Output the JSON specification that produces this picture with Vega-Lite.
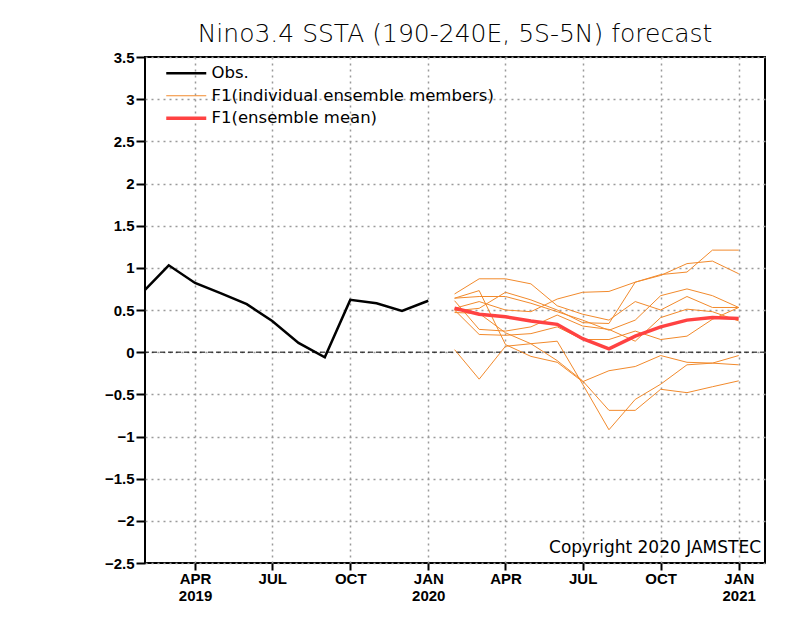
{
  "$schema": "https://vega.github.io/schema/vega-lite/v6.json",
  "width": 620,
  "height": 506,
  "autosize": {"type": "none"},
  "padding": {"left": 145, "top": 57, "right": 35, "bottom": 55},
  "background": "white",
  "title": {"text": "Nino3.4 SSTA (190-240E, 5S-5N) forecast", "font": "DejaVu Sans", "fontSize": 25, "fontWeight": 200, "color": "black", "offset": 3, "anchor": "middle"},
  "config": {
    "view": {"stroke": "black", "strokeWidth": 2},
    "axis": {"grid": true, "gridColor": "#9a9a9a", "gridDash": [2, 4], "gridWidth": 1.5, "domain": false, "tickColor": "black", "tickWidth": 2, "labelColor": "black", "labelFont": "Liberation Sans", "labelFontWeight": "bold", "labelFontSize": 15, "title": null},
    "legend": {"orient": "none", "legendX": 33, "legendY": 8, "title": null, "labelFont": "DejaVu Sans", "labelFontSize": 16.5, "labelColor": "black", "labelLimit": 500, "symbolType": "M-4,0H4", "symbolSize": 100, "rowPadding": 5.5, "labelOffset": 17}
  },
  "datasets": {
    "obs": [
      {"date": "2019-02-01", "value": 0.74, "series": "Obs."},
      {"date": "2019-03-01", "value": 1.03, "series": "Obs."},
      {"date": "2019-04-01", "value": 0.82, "series": "Obs."},
      {"date": "2019-05-01", "value": 0.70, "series": "Obs."},
      {"date": "2019-06-01", "value": 0.57, "series": "Obs."},
      {"date": "2019-07-01", "value": 0.37, "series": "Obs."},
      {"date": "2019-08-01", "value": 0.11, "series": "Obs."},
      {"date": "2019-09-01", "value": -0.06, "series": "Obs."},
      {"date": "2019-10-01", "value": 0.62, "series": "Obs."},
      {"date": "2019-11-01", "value": 0.58, "series": "Obs."},
      {"date": "2019-12-01", "value": 0.49, "series": "Obs."},
      {"date": "2020-01-01", "value": 0.61, "series": "Obs."}
    ],
    "mean": [
      {"date": "2020-02-01", "value": 0.52, "series": "F1(ensemble mean)"},
      {"date": "2020-03-01", "value": 0.45, "series": "F1(ensemble mean)"},
      {"date": "2020-04-01", "value": 0.42, "series": "F1(ensemble mean)"},
      {"date": "2020-05-01", "value": 0.37, "series": "F1(ensemble mean)"},
      {"date": "2020-06-01", "value": 0.33, "series": "F1(ensemble mean)"},
      {"date": "2020-07-01", "value": 0.16, "series": "F1(ensemble mean)"},
      {"date": "2020-08-01", "value": 0.04, "series": "F1(ensemble mean)"},
      {"date": "2020-09-01", "value": 0.19, "series": "F1(ensemble mean)"},
      {"date": "2020-10-01", "value": 0.30, "series": "F1(ensemble mean)"},
      {"date": "2020-11-01", "value": 0.38, "series": "F1(ensemble mean)"},
      {"date": "2020-12-01", "value": 0.41, "series": "F1(ensemble mean)"},
      {"date": "2021-01-01", "value": 0.40, "series": "F1(ensemble mean)"}
    ],
    "ens": [
      {"member": 1, "date": "2020-02-01", "value": 0.49, "series": "F1(individual ensemble members)"},
      {"member": 1, "date": "2020-03-01", "value": 0.52, "series": "F1(individual ensemble members)"},
      {"member": 1, "date": "2020-04-01", "value": 0.71, "series": "F1(individual ensemble members)"},
      {"member": 1, "date": "2020-05-01", "value": 0.62, "series": "F1(individual ensemble members)"},
      {"member": 1, "date": "2020-06-01", "value": 0.50, "series": "F1(individual ensemble members)"},
      {"member": 1, "date": "2020-07-01", "value": 0.35, "series": "F1(individual ensemble members)"},
      {"member": 1, "date": "2020-08-01", "value": 0.34, "series": "F1(individual ensemble members)"},
      {"member": 1, "date": "2020-09-01", "value": 0.83, "series": "F1(individual ensemble members)"},
      {"member": 1, "date": "2020-10-01", "value": 0.92, "series": "F1(individual ensemble members)"},
      {"member": 1, "date": "2020-11-01", "value": 0.95, "series": "F1(individual ensemble members)"},
      {"member": 1, "date": "2020-12-01", "value": 1.21, "series": "F1(individual ensemble members)"},
      {"member": 1, "date": "2021-01-01", "value": 1.21, "series": "F1(individual ensemble members)"},
      {"member": 2, "date": "2020-02-01", "value": 0.52, "series": "F1(individual ensemble members)"},
      {"member": 2, "date": "2020-03-01", "value": 0.60, "series": "F1(individual ensemble members)"},
      {"member": 2, "date": "2020-04-01", "value": 0.50, "series": "F1(individual ensemble members)"},
      {"member": 2, "date": "2020-05-01", "value": 0.48, "series": "F1(individual ensemble members)"},
      {"member": 2, "date": "2020-06-01", "value": 0.63, "series": "F1(individual ensemble members)"},
      {"member": 2, "date": "2020-07-01", "value": 0.71, "series": "F1(individual ensemble members)"},
      {"member": 2, "date": "2020-08-01", "value": 0.72, "series": "F1(individual ensemble members)"},
      {"member": 2, "date": "2020-09-01", "value": 0.83, "series": "F1(individual ensemble members)"},
      {"member": 2, "date": "2020-10-01", "value": 0.91, "series": "F1(individual ensemble members)"},
      {"member": 2, "date": "2020-11-01", "value": 1.05, "series": "F1(individual ensemble members)"},
      {"member": 2, "date": "2020-12-01", "value": 1.08, "series": "F1(individual ensemble members)"},
      {"member": 2, "date": "2021-01-01", "value": 0.93, "series": "F1(individual ensemble members)"},
      {"member": 3, "date": "2020-02-01", "value": 0.69, "series": "F1(individual ensemble members)"},
      {"member": 3, "date": "2020-03-01", "value": 0.87, "series": "F1(individual ensemble members)"},
      {"member": 3, "date": "2020-04-01", "value": 0.87, "series": "F1(individual ensemble members)"},
      {"member": 3, "date": "2020-05-01", "value": 0.81, "series": "F1(individual ensemble members)"},
      {"member": 3, "date": "2020-06-01", "value": 0.55, "series": "F1(individual ensemble members)"},
      {"member": 3, "date": "2020-07-01", "value": 0.45, "series": "F1(individual ensemble members)"},
      {"member": 3, "date": "2020-08-01", "value": 0.38, "series": "F1(individual ensemble members)"},
      {"member": 3, "date": "2020-09-01", "value": 0.60, "series": "F1(individual ensemble members)"},
      {"member": 3, "date": "2020-10-01", "value": 0.50, "series": "F1(individual ensemble members)"},
      {"member": 3, "date": "2020-11-01", "value": 0.66, "series": "F1(individual ensemble members)"},
      {"member": 3, "date": "2020-12-01", "value": 0.53, "series": "F1(individual ensemble members)"},
      {"member": 3, "date": "2021-01-01", "value": 0.53, "series": "F1(individual ensemble members)"},
      {"member": 4, "date": "2020-02-01", "value": 0.64, "series": "F1(individual ensemble members)"},
      {"member": 4, "date": "2020-03-01", "value": 0.66, "series": "F1(individual ensemble members)"},
      {"member": 4, "date": "2020-04-01", "value": 0.66, "series": "F1(individual ensemble members)"},
      {"member": 4, "date": "2020-05-01", "value": 0.58, "series": "F1(individual ensemble members)"},
      {"member": 4, "date": "2020-06-01", "value": 0.48, "series": "F1(individual ensemble members)"},
      {"member": 4, "date": "2020-07-01", "value": 0.38, "series": "F1(individual ensemble members)"},
      {"member": 4, "date": "2020-08-01", "value": 0.26, "series": "F1(individual ensemble members)"},
      {"member": 4, "date": "2020-09-01", "value": 0.38, "series": "F1(individual ensemble members)"},
      {"member": 4, "date": "2020-10-01", "value": 0.67, "series": "F1(individual ensemble members)"},
      {"member": 4, "date": "2020-11-01", "value": 0.75, "series": "F1(individual ensemble members)"},
      {"member": 4, "date": "2020-12-01", "value": 0.67, "series": "F1(individual ensemble members)"},
      {"member": 4, "date": "2021-01-01", "value": 0.53, "series": "F1(individual ensemble members)"},
      {"member": 5, "date": "2020-02-01", "value": 0.61, "series": "F1(individual ensemble members)"},
      {"member": 5, "date": "2020-03-01", "value": 0.27, "series": "F1(individual ensemble members)"},
      {"member": 5, "date": "2020-04-01", "value": 0.25, "series": "F1(individual ensemble members)"},
      {"member": 5, "date": "2020-05-01", "value": 0.30, "series": "F1(individual ensemble members)"},
      {"member": 5, "date": "2020-06-01", "value": 0.44, "series": "F1(individual ensemble members)"},
      {"member": 5, "date": "2020-07-01", "value": 0.31, "series": "F1(individual ensemble members)"},
      {"member": 5, "date": "2020-08-01", "value": 0.27, "series": "F1(individual ensemble members)"},
      {"member": 5, "date": "2020-09-01", "value": 0.13, "series": "F1(individual ensemble members)"},
      {"member": 5, "date": "2020-10-01", "value": 0.41, "series": "F1(individual ensemble members)"},
      {"member": 5, "date": "2020-11-01", "value": 0.51, "series": "F1(individual ensemble members)"},
      {"member": 5, "date": "2020-12-01", "value": 0.48, "series": "F1(individual ensemble members)"},
      {"member": 5, "date": "2021-01-01", "value": 0.37, "series": "F1(individual ensemble members)"},
      {"member": 6, "date": "2020-02-01", "value": 0.50, "series": "F1(individual ensemble members)"},
      {"member": 6, "date": "2020-03-01", "value": 0.21, "series": "F1(individual ensemble members)"},
      {"member": 6, "date": "2020-04-01", "value": 0.20, "series": "F1(individual ensemble members)"},
      {"member": 6, "date": "2020-05-01", "value": 0.22, "series": "F1(individual ensemble members)"},
      {"member": 6, "date": "2020-06-01", "value": 0.30, "series": "F1(individual ensemble members)"},
      {"member": 6, "date": "2020-07-01", "value": 0.15, "series": "F1(individual ensemble members)"},
      {"member": 6, "date": "2020-08-01", "value": 0.15, "series": "F1(individual ensemble members)"},
      {"member": 6, "date": "2020-09-01", "value": 0.25, "series": "F1(individual ensemble members)"},
      {"member": 6, "date": "2020-10-01", "value": 0.15, "series": "F1(individual ensemble members)"},
      {"member": 6, "date": "2020-11-01", "value": 0.19, "series": "F1(individual ensemble members)"},
      {"member": 6, "date": "2020-12-01", "value": 0.39, "series": "F1(individual ensemble members)"},
      {"member": 6, "date": "2021-01-01", "value": 0.53, "series": "F1(individual ensemble members)"},
      {"member": 7, "date": "2020-02-01", "value": 0.64, "series": "F1(individual ensemble members)"},
      {"member": 7, "date": "2020-03-01", "value": 0.73, "series": "F1(individual ensemble members)"},
      {"member": 7, "date": "2020-04-01", "value": 0.09, "series": "F1(individual ensemble members)"},
      {"member": 7, "date": "2020-05-01", "value": -0.05, "series": "F1(individual ensemble members)"},
      {"member": 7, "date": "2020-06-01", "value": -0.12, "series": "F1(individual ensemble members)"},
      {"member": 7, "date": "2020-07-01", "value": -0.35, "series": "F1(individual ensemble members)"},
      {"member": 7, "date": "2020-08-01", "value": -0.22, "series": "F1(individual ensemble members)"},
      {"member": 7, "date": "2020-09-01", "value": -0.17, "series": "F1(individual ensemble members)"},
      {"member": 7, "date": "2020-10-01", "value": -0.04, "series": "F1(individual ensemble members)"},
      {"member": 7, "date": "2020-11-01", "value": -0.12, "series": "F1(individual ensemble members)"},
      {"member": 7, "date": "2020-12-01", "value": -0.13, "series": "F1(individual ensemble members)"},
      {"member": 7, "date": "2021-01-01", "value": -0.15, "series": "F1(individual ensemble members)"},
      {"member": 8, "date": "2020-02-01", "value": 0.47, "series": "F1(individual ensemble members)"},
      {"member": 8, "date": "2020-03-01", "value": 0.46, "series": "F1(individual ensemble members)"},
      {"member": 8, "date": "2020-04-01", "value": 0.23, "series": "F1(individual ensemble members)"},
      {"member": 8, "date": "2020-05-01", "value": 0.10, "series": "F1(individual ensemble members)"},
      {"member": 8, "date": "2020-06-01", "value": -0.10, "series": "F1(individual ensemble members)"},
      {"member": 8, "date": "2020-07-01", "value": -0.34, "series": "F1(individual ensemble members)"},
      {"member": 8, "date": "2020-08-01", "value": -0.69, "series": "F1(individual ensemble members)"},
      {"member": 8, "date": "2020-09-01", "value": -0.69, "series": "F1(individual ensemble members)"},
      {"member": 8, "date": "2020-10-01", "value": -0.44, "series": "F1(individual ensemble members)"},
      {"member": 8, "date": "2020-11-01", "value": -0.48, "series": "F1(individual ensemble members)"},
      {"member": 8, "date": "2020-12-01", "value": -0.41, "series": "F1(individual ensemble members)"},
      {"member": 8, "date": "2021-01-01", "value": -0.34, "series": "F1(individual ensemble members)"},
      {"member": 9, "date": "2020-02-01", "value": 0.03, "series": "F1(individual ensemble members)"},
      {"member": 9, "date": "2020-03-01", "value": -0.32, "series": "F1(individual ensemble members)"},
      {"member": 9, "date": "2020-04-01", "value": 0.07, "series": "F1(individual ensemble members)"},
      {"member": 9, "date": "2020-05-01", "value": 0.10, "series": "F1(individual ensemble members)"},
      {"member": 9, "date": "2020-06-01", "value": 0.13, "series": "F1(individual ensemble members)"},
      {"member": 9, "date": "2020-07-01", "value": -0.38, "series": "F1(individual ensemble members)"},
      {"member": 9, "date": "2020-08-01", "value": -0.92, "series": "F1(individual ensemble members)"},
      {"member": 9, "date": "2020-09-01", "value": -0.56, "series": "F1(individual ensemble members)"},
      {"member": 9, "date": "2020-10-01", "value": -0.38, "series": "F1(individual ensemble members)"},
      {"member": 9, "date": "2020-11-01", "value": -0.15, "series": "F1(individual ensemble members)"},
      {"member": 9, "date": "2020-12-01", "value": -0.13, "series": "F1(individual ensemble members)"},
      {"member": 9, "date": "2021-01-01", "value": -0.04, "series": "F1(individual ensemble members)"}
    ]
  },
  "encoding": {
    "x": {
      "field": "date", "type": "temporal",
      "scale": {"type": "utc", "domain": [{"year": 2019, "month": 2, "date": 1, "utc": true}, {"year": 2021, "month": 2, "date": 1, "utc": true}]},
      "axis": {
        "values": [
          {"year": 2019, "month": 4, "date": 1, "utc": true},
          {"year": 2019, "month": 7, "date": 1, "utc": true},
          {"year": 2019, "month": 10, "date": 1, "utc": true},
          {"year": 2020, "month": 1, "date": 1, "utc": true},
          {"year": 2020, "month": 4, "date": 1, "utc": true},
          {"year": 2020, "month": 7, "date": 1, "utc": true},
          {"year": 2020, "month": 10, "date": 1, "utc": true},
          {"year": 2021, "month": 1, "date": 1, "utc": true}
        ],
        "labelExpr": "[upper(utcFormat(datum.value, '%b')), (utcFormat(datum.value, '%m') == '01' || utcFormat(datum.value, '%b %Y') == 'Apr 2019') ? utcFormat(datum.value, '%Y') : '']",
        "tickSize": 7, "labelPadding": 1, "labelLineHeight": 17, "labelFlush": false, "labelOverlap": false
      }
    },
    "y": {
      "field": "value", "type": "quantitative",
      "scale": {"domain": [-2.5, 3.5], "nice": false, "zero": false},
      "axis": {"values": [-2.5, -2, -1.5, -1, -0.5, 0, 0.5, 1, 1.5, 2, 2.5, 3, 3.5], "format": "~g", "tickSize": 9, "labelPadding": 2, "labelFlush": false, "labelOverlap": false}
    },
    "color": {
      "field": "series", "type": "nominal",
      "scale": {"domain": ["Obs.", "F1(individual ensemble members)", "F1(ensemble mean)"], "range": ["#000000", "#f28a2c", "#ff4242"]}
    },
    "strokeWidth": {
      "field": "series", "type": "nominal",
      "scale": {"type": "ordinal", "domain": ["Obs.", "F1(individual ensemble members)", "F1(ensemble mean)"], "range": [2.5, 1, 3.5]}
    }
  },
  "layer": [
    {
      "mark": {"type": "rule", "color": "black", "strokeWidth": 1, "strokeDash": [5, 3]},
      "data": {"values": [{"value": 0}]},
      "encoding": {"y": {"field": "value", "type": "quantitative"}, "x": null, "color": null, "strokeWidth": null}
    },
    {
      "data": {"name": "ens"},
      "mark": {"type": "line"},
      "encoding": {"detail": {"field": "member", "type": "nominal"}}
    },
    {
      "data": {"name": "mean"},
      "mark": {"type": "line"}
    },
    {
      "data": {"name": "obs"},
      "mark": {"type": "line"}
    },
    {
      "data": {"values": [{"date": "2021-02-01", "value": -2.38, "label": "Copyright 2020 JAMSTEC"}]},
      "mark": {"type": "text", "align": "right", "baseline": "alphabetic", "dx": -4, "font": "DejaVu Sans", "fontSize": 17, "color": "black"},
      "encoding": {"text": {"field": "label"}, "color": null, "strokeWidth": null}
    }
  ]
}
